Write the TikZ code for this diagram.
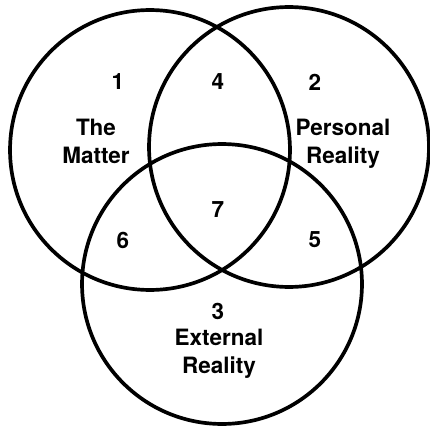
\documentclass[tikz,border=0pt]{standalone}
\usepackage{fontspec}
\setmainfont{TeX Gyre Heros}
\begin{document}
\begin{tikzpicture}[x=0.02cm, y=-0.02cm,
    ring/.style={line width=2.1pt},
    region/.style={font=\bfseries\fontsize{12.8}{16}\selectfont, align=center, inner sep=0pt}]
    \useasboundingbox (0,0) rectangle (430,426);

    % circle centres
    \coordinate (matter) at (150,150);
    \coordinate (personal) at (289,147);
    \coordinate (external) at (222,284);

    \draw[ring] (matter) circle [radius=2.8cm];
    \draw[ring] (personal) circle [radius=2.8cm];
    \draw[ring] (external) circle [radius=2.8cm];

    \node[region] (n1) at (118,82) {1};
    \node[region] (n2) at (315,82) {2};
    \node[region] (n4) at (218,82) {4};
    \node[region] (n7) at (218,210) {7};
    \node[region] (n6) at (123,240) {6};
    \node[region] (n5) at (315,240) {5};
    \node[region] (n3) at (218,311) {3};

    \node[region, anchor=north] (tm) at (96,119) {The\\Matter};
    \node[region, anchor=north] (pr) at (343,119) {Personal\\Reality};
    \node[region, anchor=north] (er) at (219,329) {External\\Reality};
\end{tikzpicture}
\end{document}
